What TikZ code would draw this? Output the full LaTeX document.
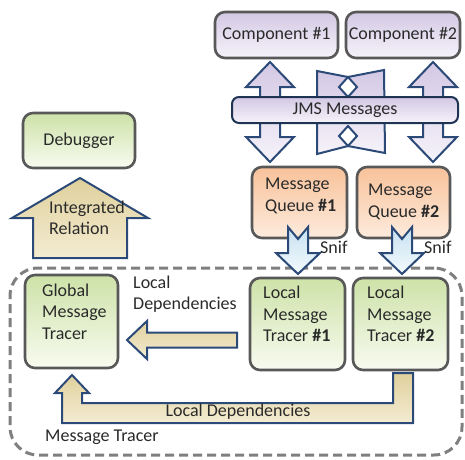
\documentclass[tikz,border=0pt]{standalone}
\usepackage{fontspec}
\setmainfont{Carlito}
\definecolor{txt}{HTML}{2A2A2A}
\definecolor{boxline}{HTML}{585858}
\definecolor{arrline}{HTML}{2C4A78}
\definecolor{purpA}{HTML}{D3C8E4}
\definecolor{purpB}{HTML}{F6F3FA}
\definecolor{greenA}{HTML}{CDE2A8}
\definecolor{greenB}{HTML}{F8FBF0}
\definecolor{orangeA}{HTML}{F8C29A}
\definecolor{orangeB}{HTML}{FDEBDD}
\definecolor{tanA}{HTML}{DFD09C}
\definecolor{tanB}{HTML}{F4ECD2}
\definecolor{blueA}{HTML}{C6E1F1}
\definecolor{blueB}{HTML}{F4FAFD}
\definecolor{dashc}{HTML}{7F7F7F}
\tikzset{
  base/.style={font=\fontsize{18}{21.5}\selectfont, text=txt},
  box/.style={rounded corners=10pt, draw=boxline, line width=2.6pt, inner sep=0pt},
  purplebox/.style={box, base, top color=purpA, bottom color=purpB},
  greenbox/.style={box, base, top color=greenA, bottom color=greenB},
  orangebox/.style={box, base, top color=orangeA, bottom color=orangeB},
  lbl/.style={base, inner sep=0pt, align=left},
  blockarrow/.style={draw=arrline, line width=2pt, line join=miter},
  tanarrow/.style={blockarrow, top color=tanA, bottom color=tanB},
  bluearrow/.style={blockarrow, top color=blueA, bottom color=blueB},
  purparrow/.style={blockarrow, top color=purpA, bottom color=purpB},
  dashbox/.style={draw=dashc, line width=3pt, dash pattern=on 9pt off 5pt, rounded corners=28pt, inner sep=0pt},
}
\begin{document}
\begin{tikzpicture}[x=1pt,y=-1pt]
\useasboundingbox (0,0) rectangle (465,459);

% --- top components
\node[purplebox, minimum width=123pt, minimum height=46pt] (c1) at (276.5,35) {Component \#1};
\node[purplebox, minimum width=114pt, minimum height=46pt] (c2) at (403,35) {Component \#2};

% crossing arrows behind band
\draw[purparrow] (317,71) -- (348,77) -- (384,70) -- (385,153) -- (348,146) -- (317,154) -- cycle;
\draw[blockarrow, fill=white] (348,77) -- (357,87) -- (348,97) -- (339,87) -- cycle;
\draw[blockarrow, fill=white] (348,126) -- (357,136) -- (348,146) -- (339,136) -- cycle;

% double arrows
\foreach \cx in {270,433}{
  \draw[purparrow] (\cx,62) -- (\cx+24,87) -- (\cx+10,87) -- (\cx+10,137) -- (\cx+24,137)
     -- (\cx,162) -- (\cx-24,137) -- (\cx-10,137) -- (\cx-10,87) -- (\cx-24,87) -- cycle;
}

% JMS band
\node[base, draw=arrline!70!black, line width=2pt, rounded corners=7pt, minimum width=226pt,
      minimum height=26pt, inner sep=0pt, top color=purpA, bottom color=purpB] (jms) at (345,110) {JMS Messages};

% debugger + integrated relation
\node[greenbox, minimum width=112pt, minimum height=55pt] (dbg) at (79,140.5) {Debugger};
\draw[tanarrow] (80,178) -- (148,218) -- (127,218) -- (127,258) -- (33,258) -- (33,218) -- (12,218) -- cycle;
\node[lbl, anchor=west] (ir) at (49,218) {Integrated\\Relation};

% message queues
\node[orangebox, minimum width=95pt, minimum height=71pt] (mq1) at (299.5,202.5) {};
\node[lbl, anchor=west] (mq1t) at (265,196) {Message\\Queue \textbf{\#1}};
\node[orangebox, minimum width=93pt, minimum height=71pt] (mq2) at (403.5,202.5) {};
\node[lbl, anchor=west] (mq2t) at (368,202) {Message\\Queue \textbf{\#2}};

% dashed container
\node[dashbox, minimum width=452pt, minimum height=187pt] (mt) at (236,361.5) {};

% snif arrows
\foreach \cx/\nm in {298/snifa,402/snifb}{
  \draw[bluearrow] (\cx-10,227) -- (\cx,239) -- (\cx+10,227) -- (\cx+10,253) -- (\cx+22,253)
     -- (\cx,274) -- (\cx-22,253) -- (\cx-10,253) -- cycle;
  \node[lbl, anchor=west] (\nm) at (\cx+22,247) {Snif};
}

% tracers
\node[greenbox, minimum width=93pt, minimum height=93pt] (gmt) at (71.5,321.5) {};
\node[lbl, anchor=west] (gmtt) at (42,311.5) {Global\\Message\\Tracer};
\node[greenbox, minimum width=95pt, minimum height=92pt] (lmt1) at (297.5,324) {};
\node[lbl, anchor=west] (lmt1t) at (263,314) {Local\\Message\\Tracer \textbf{\#1}};
\node[greenbox, minimum width=95pt, minimum height=92pt] (lmt2) at (400.5,324) {};
\node[lbl, anchor=west] (lmt2t) at (367,314) {Local\\Message\\Tracer \textbf{\#2}};

% local dependencies arrow (left)
\draw[tanarrow] (127,340) -- (147,321) -- (147,332.5) -- (237,332.5) -- (237,347.5) -- (147,347.5) -- (147,359) -- cycle;
\node[lbl, anchor=west] (ld1) at (133,294) {Local\\Dependencies};

% bottom L arrow
\draw[tanarrow] (393,373) -- (413,373) -- (413,423) -- (62,423) -- (62,393) -- (55,393) -- (72,375)
   -- (89,393) -- (82,393) -- (82,403) -- (393,403) -- cycle;
\node[lbl] (ld2) at (238,412) {Local Dependencies};

\node[lbl, anchor=west] (mtl) at (45,437) {Message Tracer};
\end{tikzpicture}
\end{document}
